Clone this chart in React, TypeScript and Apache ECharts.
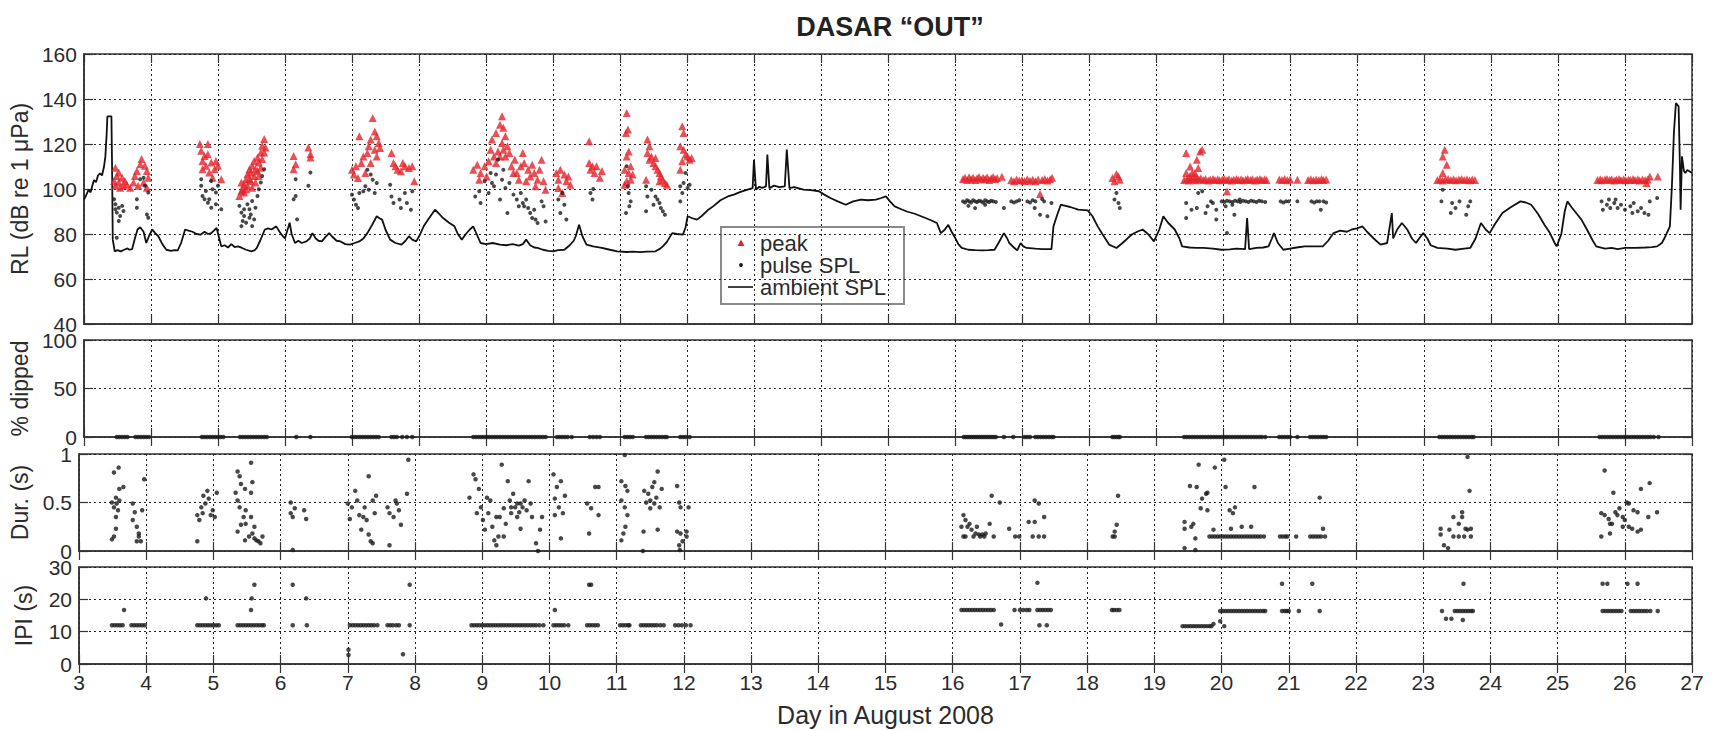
import React, { useEffect, useRef } from "react";
import * as echarts from "echarts";

// ---------- DATA (day in August 2008, value) ----------
const dayMin = 3;
const dayMax = 27;

const ambientSPL: number[][] = [
  [3.0,95.3],[3.03,97],[3.07,99.7],[3.1,98.5],[3.13,102],[3.15,104],[3.18,103],[3.21,106],[3.24,107],[3.27,106],[3.3,110],[3.32,114.5],[3.34,125],[3.35,132.3],[3.41,132.3],[3.42,110],[3.43,77.5],[3.46,72.3],[3.5,72.8],[3.55,72.3],[3.6,73],[3.65,73.6],[3.68,73],[3.72,73.3],[3.76,78],[3.8,82],[3.84,83],[3.89,81],[3.93,76],[3.97,79],
  [4.02,82],[4.06,80.5],[4.11,79],[4.17,75.5],[4.23,73],[4.3,72.5],[4.35,72.8],[4.4,72.7],[4.45,76],[4.51,82],[4.56,81.5],[4.62,81],[4.68,80],[4.74,79.7],[4.8,81],[4.85,80],[4.9,80.4],[4.94,81.5],[4.98,82.7],
  [5.02,78],[5.05,74.5],[5.1,75],[5.15,74],[5.2,75.5],[5.25,74.2],[5.3,74.5],[5.36,73.8],[5.42,73],[5.5,72.3],[5.55,72.8],[5.58,73.8],[5.63,77],[5.7,82],[5.75,82.5],[5.8,82],[5.87,83.4],[5.92,81],[5.95,79.7],
  [6.0,78],[6.04,82],[6.07,85],[6.1,80],[6.15,76],[6.2,77],[6.25,76],[6.32,76.7],[6.37,78],[6.41,80.4],[6.46,78],[6.5,77],[6.55,76.7],[6.6,78.5],[6.66,80.4],[6.7,79],[6.77,77],[6.83,76.7],[6.9,75.5],[6.97,75.3],
  [7.04,76],[7.11,76.7],[7.17,78],[7.23,80.4],[7.3,84],[7.37,87.9],[7.41,87],[7.45,86.4],[7.5,82],[7.57,77.5],[7.65,76],[7.74,75.3],[7.8,77],[7.85,79],[7.9,77.5],[7.96,76.7],
  [8.02,80],[8.07,83.4],[8.15,87],[8.24,90.8],[8.3,89],[8.36,87.1],[8.45,85],[8.53,83.4],[8.58,80],[8.64,77.5],[8.7,80],[8.76,82],[8.81,83.4],[8.86,80],[8.92,76],
  [9.0,75.5],[9.1,76],[9.21,75.3],[9.3,75],[9.4,75.5],[9.49,74.8],[9.55,75.5],[9.6,77.5],[9.66,75],[9.72,74],[9.77,73.8],[9.85,73],[9.93,72.5],
  [10.0,72.3],[10.08,72.8],[10.17,73],[10.25,75],[10.31,77],[10.34,79],[10.39,84.1],[10.44,79],[10.5,75.3],[10.6,74.5],[10.73,73.8],[10.85,73],[10.96,72.3],
  [11.1,72],[11.2,72.2],[11.3,71.9],[11.4,72.2],[11.53,72.3],[11.6,73.5],[11.64,74.5],[11.7,76.5],[11.78,80.4],[11.85,80],[11.94,79.7],[11.98,83],
  [12.01,87.9],[12.08,87],[12.15,86.4],[12.22,88],[12.32,90.8],[12.4,92.5],[12.5,95],[12.61,96.7],[12.7,97.5],[12.78,98.5],[12.88,99.5],[12.98,100.4],
  [13.0,113],[13.03,99.7],[13.08,101],[13.12,100.5],[13.18,101.2],[13.2,115.3],[13.23,100.4],[13.3,101.5],[13.38,100.8],[13.46,101.2],[13.49,117.5],[13.53,100.4],[13.6,100.8],[13.74,99.7],[13.85,99.5],[13.97,99],
  [14.05,97.5],[14.14,96],[14.25,94.5],[14.37,93],[14.48,94.5],[14.6,95.3],[14.7,95],[14.82,95.3],[14.9,96],[14.97,96.7],
  [15.03,94.5],[15.1,92.3],[15.2,91],[15.28,90],[15.4,89],[15.56,87.1],[15.65,86],[15.73,84.9],[15.79,80.4],[15.85,82],[15.9,84.1],[15.95,81],[15.99,79],
  [16.05,75.5],[16.1,73.8],[16.2,73],[16.3,72.8],[16.41,72.7],[16.5,72.8],[16.59,73],[16.65,76],[16.73,80.4],[16.78,78],[16.81,76],[16.88,74],[16.93,72.7],[16.98,76],
  [17.02,74.5],[17.07,73.8],[17.2,73.5],[17.3,73.3],[17.44,73.3],[17.47,83.4],[17.52,88],[17.58,93],[17.65,92.5],[17.72,92],[17.84,90.8],[17.98,90.5],
  [18.05,88],[18.13,83.4],[18.2,80],[18.3,75.3],[18.41,73.8],[18.5,76],[18.58,78.2],[18.65,80],[18.72,81],[18.8,82],[18.88,80],[18.97,76.7],
  [19.05,82],[19.11,87.9],[19.18,85],[19.28,82],[19.35,78],[19.39,74.5],[19.5,74],[19.6,73.8],[19.71,73.8],[19.85,73.5],[19.98,73],
  [20.1,73.2],[20.2,73.5],[20.33,73.3],[20.36,87.1],[20.39,73.3],[20.5,73.8],[20.6,74],[20.68,74.5],[20.73,78],[20.76,80.4],[20.82,76],[20.9,73],
  [21.0,73.5],[21.1,74],[21.22,74.5],[21.35,74.5],[21.49,74.5],[21.57,77],[21.65,80.4],[21.75,81.5],[21.85,81],[21.92,82],
  [22.0,82.5],[22.08,83.4],[22.15,81],[22.25,78],[22.35,75.3],[22.45,76],[22.52,89.3],[22.54,78],[22.6,82],[22.67,84.9],[22.75,82],[22.82,78],[22.88,76],[22.94,78.5],[22.99,80.4],
  [23.05,78],[23.1,75],[23.2,73.8],[23.35,73.5],[23.47,73],[23.6,73.5],[23.69,73.8],[23.77,78],[23.85,84.9],[23.92,82],[23.98,80.4],
  [24.05,84],[24.17,89.3],[24.3,92],[24.44,94.5],[24.52,94],[24.6,93],[24.7,89],[24.8,84],[24.88,80.4],[24.95,76],[24.98,74.5],
  [25.05,80],[25.1,90],[25.14,94.5],[25.2,92],[25.28,89],[25.35,86.4],[25.45,81],[25.52,77],[25.57,74.5],[25.7,73.5],[25.8,73.8],[25.89,73.3],
  [26.0,73.8],[26.16,73.8],[26.3,74],[26.4,74.2],[26.48,74.5],[26.55,76],[26.59,78.2],[26.67,83.4],[26.7,101.2],[26.73,125],[26.76,138.2],[26.8,136.7],[26.82,110],[26.83,90.8],[26.85,114.5],[26.88,108],[26.9,107.1],[26.93,108.5],[26.96,107.9],[27.0,107.1]
];

const peakLevel: number[][] = [
  [3.45,103.6],[3.47,109.5],[3.47,101.4],[3.49,105.8],[3.52,102.9],[3.52,107.3],[3.54,100.6],[3.57,105],[3.59,101.4],[3.61,103.6],[3.64,102],[3.69,100.6],
  [3.74,102.9],[3.76,105.8],[3.79,108],[3.81,101.4],[3.84,111],[3.86,113.3],[3.89,102.9],[3.91,110.3],[3.94,108],[3.94,100.6],[3.96,105],
  [4.73,120],[4.75,117],[4.77,112.5],[4.77,108.8],[4.8,114.7],[4.82,110.3],[4.85,120],[4.85,115.5],[4.87,107.3],[4.9,111.8],[4.92,105],[4.95,108.8],[4.97,112.5],[5.0,110.3],[5.05,104.3],
  [5.32,96.9],[5.37,99.9],[5.39,102.1],[5.42,104.3],[5.44,106.6],[5.47,108.8],[5.49,107.3],[5.51,110.3],[5.54,112.5],[5.56,108.8],[5.59,114],[5.61,111.8],[5.64,116.2],[5.66,119.2],[5.69,122.2],[5.71,118.5],
  [5.35,102.9],[5.39,98.4],[5.44,101.4],[5.49,103.6],[5.54,105.8],[5.56,102.9],[5.59,108],[5.64,109.5],[5.66,113.3],[5.69,116.2],[5.42,99.9],[5.47,104.3],[5.51,100.6],[5.61,105.8],[5.35,99.1],
  [6.13,114.7],[6.16,111],[6.13,108.8],[6.35,118.5],[6.38,115.5],[6.38,114],
  [7.0,108.6],[7.03,106.4],[7.06,110.1],[7.11,123.4],[7.14,111.6],[7.17,114.5],[7.23,116],[7.25,119],[7.28,122],[7.31,131.6],[7.34,125.6],[7.37,123.4],[7.4,120.4],[7.42,118.2],[7.28,111.6],[7.2,107.1],[7.09,104.9],[7.34,117.5],[7.37,114.5],
  [7.59,116],[7.62,111.6],[7.65,110.1],[7.68,108.6],[7.76,111.6],[7.79,110.1],[7.85,109.3],[7.9,110.1],[7.93,103.4],[7.73,107.9],
  [8.81,108.6],[8.87,110.8],[8.92,107.1],[8.98,110.1],[9.04,112.3],[9.07,117.5],[9.09,122],[9.15,124.9],[9.21,128.6],[9.24,132.3],[9.26,127.2],[9.29,123.4],[9.32,119],[9.35,116],
  [9.12,114.5],[9.18,116.7],[9.24,120.4],[9.29,114.5],[9.38,110.1],[9.43,113],[9.46,107.1],[9.52,110.1],[9.55,116],[9.57,111.6],[9.63,108.6],[9.66,105.6],[9.69,110.8],[9.72,107.1],
  [9.77,104.1],[9.8,108.6],[9.83,113],[9.86,103.4],[9.89,99.7],[9.74,101.2],[9.49,104.1],[9.6,103.4],[9.41,107.1],[9.01,105.6],[8.9,104.1],[9.21,114.5],[9.26,117.5],[9.15,111.6],
  [10.05,107.1],[10.08,104.1],[10.11,108.6],[10.14,98.2],[10.17,106.4],[10.2,103.4],[10.23,105.6],[10.26,101.9],[10.08,100.4],
  [10.54,121.2],[10.54,111.6],[10.56,108.6],[10.59,110.1],[10.62,107.1],[10.65,110.1],[10.7,105],[10.73,108],
  [11.1,133.8],[11.12,126.4],[11.09,124.9],[11.13,116.7],[11.1,114.5],[11.16,110.1],[11.07,108.6],[11.13,107.1],[11.16,104.1],[11.1,103.4],[11.07,101.9],[11.19,106.4],
  [11.41,122],[11.44,119],[11.41,116],[11.47,114.5],[11.5,111.6],[11.53,110.1],[11.56,108.6],[11.59,107.1],[11.61,105.6],[11.64,104.1],[11.67,102.7],[11.7,101.9],[11.44,113],[11.39,104.1],[11.53,113.8],[11.59,103.4],
  [11.93,127.9],[11.95,124.9],[11.9,119],[11.95,117.5],[11.98,115.3],[12.01,114.5],[12.04,113],[12.07,113.8],[11.9,108.6],[11.93,112.3],
  [16.12,104.5],[16.15,105],[16.18,104],[16.21,105.2],[16.24,104.3],[16.27,105],[16.3,104],[16.33,104.8],[16.36,105.3],[16.39,104.2],[16.42,105],[16.45,104.5],[16.48,105.2],[16.51,104],[16.54,104.8],[16.57,105.3],[16.6,104.4],[16.63,104.9],[16.7,105.5],
  [16.84,104],[16.88,103.5],[16.92,104.2],[16.96,103.8],[17.0,104],[17.04,103.6],[17.08,104.3],[17.12,103.7],[17.16,104.1],[17.2,103.5],[17.24,104.2],[17.27,97.8],[17.3,104],[17.34,104.5],[17.38,103.8],[17.42,104.3],[17.45,105],
  [18.35,104.9],[18.38,103.4],[18.41,106.7],[18.44,105.6],[18.46,104.1],
  [19.45,116],[19.51,110],[19.54,107.1],[19.6,105.6],[19.61,113],[19.66,116.7],[19.69,117.5],[19.63,109.3],[19.58,107.1],[19.45,107.1],[19.5,105.6],[20.06,99],
  [19.42,104],[19.46,104.5],[19.49,103.8],[19.53,104.2],[19.56,104.6],[19.6,103.9],[19.64,104.3],[19.67,104.8],[19.71,104],[19.74,104.4],[19.78,103.8],[19.81,104.2],[19.85,104.5],[19.88,104],[19.92,104.3],[19.95,103.9],[19.99,104.2],
  [20.02,104.5],[20.06,104],[20.09,104.3],[20.13,103.8],[20.16,104.2],[20.2,104.5],[20.23,104],[20.27,104.3],[20.3,103.9],[20.34,104.2],[20.37,104.4],[20.41,104],[20.44,104.3],[20.48,103.8],[20.51,104.2],[20.55,104.5],[20.58,104],[20.62,104.3],[20.65,104],
  [20.84,104.2],[20.88,104],[20.92,104.4],[20.96,103.9],[21.0,104.2],[21.11,104.1],[21.27,104],[21.31,104.3],[21.35,103.9],[21.39,104.2],[21.43,104],[21.47,104.4],[21.5,104],[21.54,104.2],
  [23.31,117.5],[23.28,114.5],[23.34,110.8],[23.28,107.1],
  [23.2,104],[23.24,104.3],[23.28,103.8],[23.32,104.2],[23.36,104.5],[23.4,104],[23.44,104.3],[23.48,103.9],[23.52,104.2],[23.56,104.5],[23.6,104],[23.64,104.3],[23.68,103.9],[23.72,104.2],[23.76,104],
  [25.59,104],[25.63,104.3],[25.66,103.9],[25.7,104.2],[25.73,104.5],[25.77,104],[25.8,104.3],[25.84,103.8],[25.87,104.2],[25.91,104.5],[25.94,104],[25.98,104.3],[26.01,103.9],[26.05,104.2],[26.08,104],[26.12,104.4],[26.15,104],[26.19,104.3],[26.22,103.8],[26.26,104.2],[26.3,104],[26.34,104.2],[26.32,102.7],[26.37,105.6],[26.49,105.6]
];

const pulseSPL: number[][] = [
  [3.45,95.4],[3.47,93.2],[3.47,91],[3.49,89.5],[3.49,78.3],[3.52,91.7],[3.52,85.8],[3.54,88],[3.57,92.5],[3.59,90.2],[3.79,95.4],[3.79,91.7],[3.84,104.3],[3.89,105],[3.91,101.4],[3.94,88.7],[3.96,98.4],[3.96,87.2],
  [4.75,101.4],[4.77,96.9],[4.8,95.4],[4.85,93.9],[4.87,95.4],[4.82,99.1],[4.9,103.6],[4.92,99.9],[4.97,98.4],[4.97,93.2],[5.0,101.4],[5.05,91],[4.75,104.3],[4.9,91.7],
  [5.32,92.5],[5.35,89.5],[5.39,88],[5.37,85.8],[5.44,93.2],[5.47,91],[5.42,85],[5.35,83.5],[5.49,88.7],[5.51,94.7],[5.56,91.7],[5.59,96.9],[5.61,99.9],[5.64,102.9],[5.66,105.8],[5.69,108.8],[5.54,86.5],[5.51,83.5],[5.39,91],[5.47,87.2],
  [6.16,104.3],[6.13,95.4],[6.16,96.9],[6.38,107.3],[6.35,101.4],[6.18,86.5],
  [7.0,97.5],[7.03,95.3],[7.06,93],[7.11,98.2],[7.17,99],[7.2,101.2],[7.25,99.7],[7.31,104.1],[7.34,98.2],[7.37,102.7],[7.28,106.4],[7.23,108.6],
  [7.57,101.9],[7.59,96.7],[7.62,93.8],[7.71,95.3],[7.73,91.6],[7.79,98.2],[7.82,93.8],[7.88,90.8],[7.9,99],[7.09,91.6],
  [8.84,96.7],[8.9,99],[8.92,93.8],[8.98,103.4],[9.04,98.2],[9.07,107.1],[9.12,101.2],[9.15,106.4],[9.18,113],[9.21,95.3],[9.24,104.1],[9.29,100.4],[9.32,89.3],[9.35,102.7],[9.41,97.5],[9.46,95.3],
  [9.52,98.2],[9.55,93.8],[9.57,92.3],[9.63,91.6],[9.66,89.3],[9.69,87.1],[9.74,86.4],[9.77,84.9],[9.83,94.5],[9.86,92.3],[9.89,85.6],[9.72,90.8],[9.6,95.3],[9.09,102.7],[9.26,108.6],[9.49,92.3],
  [10.08,95.3],[10.11,89.3],[10.17,93],[10.2,86.4],[10.14,98.2],
  [10.56,98.2],[10.59,95.3],[10.6,100],
  [11.1,110.1],[11.13,98.2],[11.16,94.5],[11.14,92.3],[11.12,101.2],[11.09,89.3],
  [11.39,101.2],[11.41,96.7],[11.39,90.1],[11.47,99.7],[11.53,96.7],[11.56,95.3],[11.59,93.8],[11.61,91.6],[11.64,90.1],[11.67,88.6],[11.5,93],
  [11.9,101.2],[11.93,98.2],[11.95,102.7],[12.01,100.4],[12.04,101.9],[11.98,107.1],[11.9,94.5],
  [16.12,94.5],[16.15,94],[16.18,95],[16.21,94.5],[16.24,94],[16.27,95],[16.3,94.5],[16.33,94.2],[16.36,94.8],[16.39,94.5],[16.42,94],[16.45,95],[16.48,94.5],[16.51,94.2],[16.54,94.8],[16.57,94.5],[16.61,94.2],
  [16.2,92.5],[16.3,91.5],[16.45,93],[16.73,91.6],
  [16.84,94.5],[16.88,94],[16.92,94.5],[16.96,95],[17.08,94.5],[17.12,94],[17.16,95],[17.2,94.5],[17.19,91.6],[17.27,88.6],[17.33,94.5],[17.38,87.9],[17.44,93.8],[17.3,95.5],
  [18.41,98.2],[18.38,95.3],[18.44,93.8],[18.46,91.6],
  [19.45,93.8],[19.53,90.8],[19.45,87.1],[19.61,91.6],[19.63,98.2],[19.69,99],[19.74,89.3],[19.77,92.3],[19.9,90.8],[19.9,86.4],[19.85,93.8],[20.04,92.3],[20.06,80.4],[20.14,93],[20.17,88.6],[20.25,95.3],[19.82,94.5],
  [19.98,94.5],[20.02,94.2],[20.06,94.8],[20.1,94.5],[20.14,94.2],[20.18,94.8],[20.22,94.5],[20.26,94.2],[20.3,94.8],[20.34,94.5],[20.38,94.2],[20.42,94.8],[20.46,94.5],[20.5,94.2],[20.54,94.8],[20.58,94.5],[20.63,94.2],
  [20.86,94.5],[20.9,94],[20.94,94.5],[20.98,94.5],[21.11,94.5],[21.32,94.5],[21.36,94],[21.4,94.5],[21.44,94.5],[21.46,90.8],[21.5,94.5],[21.54,94],
  [23.28,99.7],[23.26,94.5],[23.42,93.8],[23.47,91.6],[23.63,88.6],[23.53,94.5],[23.69,94.5],[23.66,92.3],[23.4,89.3],
  [25.65,94.5],[25.67,90.8],[25.76,95.3],[25.78,91.6],[25.84,93.8],[25.89,91.6],[25.94,93],[26.0,90.8],[26.08,92.3],[26.13,93.8],[26.19,90.1],[26.24,91.6],[26.35,88.6],[26.37,94.5],[26.48,96],[25.73,93],[25.86,95.3],[26.11,89.3],[26.29,89.3]
];

const percentDipped: number[][] = [
  [3.49,0],[3.53,0],[3.57,0],[3.61,0],[3.65,0],[3.77,0],[3.81,0],[3.85,0],[3.89,0],[3.93,0],[3.97,0],
  [4.76,0],[4.8,0],[4.84,0],[4.88,0],[4.92,0],[4.96,0],[5.0,0],[5.04,0],[5.08,0],
  [5.33,0],[5.37,0],[5.41,0],[5.45,0],[5.49,0],[5.53,0],[5.57,0],[5.61,0],[5.65,0],[5.69,0],[5.73,0],
  [6.17,0],[6.38,0],
  [7.0,0],[7.04,0],[7.08,0],[7.12,0],[7.16,0],[7.2,0],[7.24,0],[7.28,0],[7.32,0],[7.36,0],[7.4,0],[7.59,0],[7.63,0],[7.67,0],[7.75,0],[7.82,0],[7.9,0],
  [8.81,0],[8.85,0],[8.89,0],[8.93,0],[8.97,0],[9.01,0],[9.05,0],[9.09,0],[9.13,0],[9.17,0],[9.21,0],[9.25,0],[9.29,0],[9.33,0],[9.37,0],[9.41,0],[9.45,0],[9.49,0],[9.53,0],[9.57,0],[9.61,0],[9.65,0],[9.69,0],[9.73,0],[9.77,0],[9.81,0],[9.85,0],[9.89,0],
  [10.06,0],[10.1,0],[10.14,0],[10.18,0],[10.22,0],[10.28,0],[10.55,0],[10.6,0],[10.65,0],[10.7,0],
  [11.07,0],[11.11,0],[11.15,0],[11.19,0],[11.39,0],[11.43,0],[11.47,0],[11.51,0],[11.55,0],[11.59,0],[11.63,0],[11.67,0],[11.7,0],[11.9,0],[11.94,0],[11.98,0],[12.04,0],
  [16.13,0],[16.16,0],[16.19,0],[16.22,0],[16.25,0],[16.28,0],[16.31,0],[16.34,0],[16.37,0],[16.4,0],[16.43,0],[16.46,0],[16.49,0],[16.52,0],[16.55,0],[16.58,0],[16.61,0],
  [16.73,0],[16.87,0],[17.04,0],[17.08,0],[17.12,0],[17.2,0],[17.24,0],[17.28,0],[17.32,0],[17.36,0],[17.4,0],[17.44,0],[17.47,0],
  [18.35,0],[18.38,0],[18.41,0],[18.44,0],[18.46,0],
  [19.42,0],[19.46,0],[19.5,0],[19.54,0],[19.58,0],[19.62,0],[19.66,0],[19.7,0],[19.74,0],[19.78,0],[19.82,0],[19.86,0],[19.9,0],[19.94,0],[19.98,0],[20.02,0],[20.06,0],[20.1,0],[20.14,0],[20.18,0],[20.22,0],[20.26,0],[20.3,0],[20.34,0],[20.38,0],[20.42,0],[20.46,0],[20.5,0],[20.54,0],[20.58,0],[20.63,0],
  [20.84,0],[20.88,0],[20.92,0],[20.96,0],[21.0,0],[21.11,0],[21.3,0],[21.34,0],[21.38,0],[21.42,0],[21.46,0],[21.5,0],[21.54,0],
  [23.23,0],[23.27,0],[23.31,0],[23.35,0],[23.39,0],[23.43,0],[23.47,0],[23.51,0],[23.55,0],[23.59,0],[23.63,0],[23.67,0],[23.71,0],[23.74,0],
  [25.62,0],[25.66,0],[25.7,0],[25.74,0],[25.78,0],[25.82,0],[25.86,0],[25.9,0],[25.94,0],[25.98,0],[26.02,0],[26.06,0],[26.1,0],[26.14,0],[26.18,0],[26.22,0],[26.26,0],[26.3,0],[26.34,0],[26.38,0],[26.43,0],[26.5,0]
];

const pulseDuration: number[][] = [
  [3.52,0.81],[3.59,0.86],[3.55,0.55],[3.49,0.5],[3.52,0.45],[3.58,0.42],[3.55,0.35],[3.6,0.64],[3.66,0.66],[3.55,0.23],[3.52,0.15],[3.49,0.12],[3.6,0.52],[3.56,0.49],
  [3.8,0.49],[3.83,0.4],[3.8,0.32],[3.86,0.25],[3.89,0.18],[3.92,0.1],[3.86,0.1],[3.94,0.42],[3.97,0.74],[3.89,0.15],
  [4.76,0.1],[4.79,0.32],[4.76,0.37],[4.82,0.45],[4.85,0.57],[4.91,0.62],[4.93,0.54],[4.88,0.49],[4.96,0.37],[4.99,0.42],[5.05,0.6],[5.02,0.35],[4.84,0.39],
  [5.56,0.91],[5.36,0.82],[5.39,0.77],[5.33,0.6],[5.41,0.69],[5.47,0.64],[5.58,0.71],[5.56,0.6],[5.36,0.52],[5.39,0.45],[5.45,0.35],[5.41,0.27],[5.48,0.28],[5.56,0.35],[5.61,0.25],[5.58,0.18],[5.36,0.2],[5.47,0.11],[5.53,0.15],[5.61,0.13],[5.67,0.1],[5.7,0.08],[5.73,0.15],[5.64,0.11],[5.48,0.42],
  [6.18,0.01],[6.18,0.35],[6.15,0.5],[6.21,0.44],[6.35,0.42],[6.38,0.33],[6.15,0.39],
  [7.03,0.33],[7.0,0.49],[7.11,0.62],[7.14,0.52],[7.06,0.45],[7.17,0.37],[7.2,0.22],[7.25,0.45],[7.31,0.77],[7.28,0.32],[7.31,0.17],[7.34,0.1],[7.37,0.08],[7.4,0.39],[7.42,0.57],[7.37,0.52],[7.23,0.35],
  [7.59,0.45],[7.62,0.39],[7.62,0.06],[7.71,0.52],[7.73,0.49],[7.76,0.42],[7.79,0.27],[7.88,0.59],[7.9,0.94],[7.68,0.35],
  [8.81,0.55],[8.87,0.79],[8.9,0.74],[8.95,0.64],[8.98,0.45],[9.01,0.32],[9.04,0.22],[9.09,0.39],[9.12,0.52],[9.15,0.25],[9.18,0.11],[9.21,0.06],[9.24,0.15],[9.26,0.35],[9.29,0.89],[9.32,0.44],[9.35,0.28],[9.38,0.72],
  [9.41,0.52],[9.43,0.39],[9.46,0.59],[9.49,0.45],[9.52,0.49],[9.55,0.4],[9.57,0.23],[9.6,0.45],[9.63,0.52],[9.66,0.42],[9.69,0.72],[9.72,0.49],[9.74,0.35],[9.8,0.08],[9.83,0.0],[9.86,0.22],[9.89,0.35],
  [9.07,0.55],[9.21,0.35],[9.43,0.45],[9.52,0.35],[9.57,0.49],[8.92,0.39],[9.32,0.15],
  [10.06,0.79],[10.11,0.66],[10.17,0.72],[10.08,0.54],[10.14,0.45],[10.2,0.39],[10.17,0.13],[10.23,0.57],[10.08,0.37],
  [10.56,0.49],[10.59,0.18],[10.62,0.44],[10.68,0.66],[10.73,0.66],[10.73,0.37],
  [11.12,0.99],[11.07,0.72],[11.13,0.67],[11.16,0.62],[11.07,0.52],[11.12,0.45],[11.16,0.37],[11.13,0.25],[11.1,0.18],[11.07,0.11],
  [11.41,0.62],[11.47,0.59],[11.5,0.52],[11.53,0.66],[11.56,0.71],[11.61,0.82],[11.59,0.55],[11.64,0.45],[11.67,0.64],[11.56,0.49],[11.5,0.44],[11.4,0.2],[11.61,0.22],[11.39,0.0],[11.44,0.5],
  [11.9,0.67],[11.93,0.5],[11.95,0.45],[12.07,0.45],[11.9,0.2],[11.95,0.18],[12.04,0.2],[11.98,0.1],[11.93,0.06],[12.04,0.15],[11.94,0.01],
  [16.16,0.37],[16.19,0.32],[16.22,0.25],[16.13,0.25],[16.25,0.28],[16.28,0.22],[16.34,0.18],[16.39,0.17],[16.44,0.17],[16.49,0.18],[16.55,0.28],[16.58,0.57],[16.7,0.5],[16.31,0.15],[16.19,0.15],[16.47,0.15],[16.61,0.15],[16.16,0.15],[16.36,0.25],[16.41,0.15],
  [16.84,0.23],[16.93,0.15],[16.99,0.15],[17.19,0.15],[17.28,0.15],[17.36,0.15],[17.13,0.3],[17.22,0.3],[17.36,0.35],[17.22,0.52],[17.28,0.49],
  [18.38,0.15],[18.41,0.2],[18.44,0.27],[18.46,0.57],[18.41,0.15],
  [19.45,0.3],[19.45,0.23],[19.55,0.25],[19.58,0.28],[19.61,0.13],[19.45,0.03],[19.61,0.01],[19.53,0.67],[19.63,0.66],[19.66,0.89],[19.71,0.54],[19.77,0.59],[19.79,0.6],[19.69,0.44],[19.79,0.42],[19.9,0.86],[20.04,0.94],[20.06,0.66],[20.12,0.42],[20.17,0.39],[20.2,0.45],[20.49,0.66],[19.88,0.22],[20.14,0.23],[20.3,0.25],[20.44,0.25],
  [19.82,0.15],[19.86,0.15],[19.9,0.15],[19.94,0.15],[19.98,0.15],[20.02,0.15],[20.06,0.15],[20.1,0.15],[20.14,0.15],[20.18,0.15],[20.22,0.15],[20.26,0.15],[20.3,0.15],[20.34,0.15],[20.38,0.15],[20.42,0.15],[20.46,0.15],[20.5,0.15],[20.54,0.15],[20.58,0.15],[20.63,0.15],
  [20.87,0.15],[20.91,0.15],[20.95,0.15],[20.98,0.15],[21.11,0.15],[21.32,0.15],[21.36,0.15],[21.4,0.15],[21.44,0.15],[21.48,0.15],[21.54,0.15],[21.46,0.55],[21.51,0.23],
  [23.26,0.23],[23.26,0.17],[23.39,0.22],[23.31,0.06],[23.37,0.03],[23.45,0.35],[23.53,0.28],[23.58,0.4],[23.58,0.35],[23.63,0.23],[23.69,0.62],[23.66,0.97],[23.45,0.15],[23.53,0.15],[23.61,0.15],[23.71,0.23],[23.71,0.15],[23.66,0.22],
  [25.7,0.83],[25.83,0.6],[25.65,0.39],[25.7,0.37],[25.76,0.33],[25.81,0.28],[25.86,0.4],[25.89,0.37],[25.92,0.44],[25.97,0.35],[26.0,0.32],[26.03,0.5],[26.06,0.25],[26.11,0.23],[26.13,0.42],[26.19,0.4],[26.19,0.2],[26.24,0.22],[26.24,0.64],[26.35,0.35],[26.37,0.7],[26.48,0.4],[25.65,0.15],[25.78,0.18],[25.97,0.25],[26.06,0.49],[25.78,0.28]
];

const interPulseInterval: number[][] = [
  [3.49,12],[3.53,12],[3.57,12],[3.61,12],[3.65,12],[3.78,12],[3.82,12],[3.86,12],[3.9,12],[3.94,12],[3.98,12],[3.67,16.7],
  [4.76,12],[4.8,12],[4.84,12],[4.88,12],[4.92,12],[4.96,12],[5.0,12],[5.04,12],[5.08,12],[4.89,20.3],
  [5.36,12],[5.4,12],[5.44,12],[5.48,12],[5.52,12],[5.56,12],[5.6,12],[5.64,12],[5.68,12],[5.72,12],[5.75,12],[5.56,16.7],[5.57,20.3],[5.61,24.5],
  [6.18,24.5],[6.18,12],[6.38,20.3],[6.39,12],
  [7.03,12],[7.07,12],[7.11,12],[7.15,12],[7.19,12],[7.23,12],[7.27,12],[7.31,12],[7.35,12],[7.39,12],[7.44,12],[7.59,12],[7.63,12],[7.67,12],[7.72,12],[7.76,12],[7.92,12],[7.01,4.4],[7.01,2.8],[7.82,3.0],[7.92,24.5],
  [8.84,12],[8.88,12],[8.92,12],[8.96,12],[9.0,12],[9.04,12],[9.08,12],[9.12,12],[9.16,12],[9.2,12],[9.24,12],[9.28,12],[9.32,12],[9.36,12],[9.4,12],[9.44,12],[9.48,12],[9.52,12],[9.56,12],[9.6,12],[9.64,12],[9.68,12],[9.72,12],[9.76,12],[9.8,12],[9.85,12],[9.91,12],
  [10.06,12],[10.1,12],[10.14,12],[10.18,12],[10.22,12],[10.28,12],[10.08,16.7],
  [10.59,24.5],[10.62,24.5],[10.56,12],[10.6,12],[10.64,12],[10.68,12],[10.72,12],
  [11.05,12],[11.09,12],[11.13,12],[11.17,12],[11.19,12],
  [11.36,12],[11.4,12],[11.44,12],[11.48,12],[11.52,12],[11.56,12],[11.6,12],[11.65,12],[11.7,12],
  [11.87,12],[11.92,12],[11.97,12],[12.03,12],[12.1,12],
  [16.13,16.7],[16.17,16.7],[16.21,16.7],[16.25,16.7],[16.29,16.7],[16.33,16.7],[16.37,16.7],[16.41,16.7],[16.45,16.7],[16.49,16.7],[16.53,16.7],[16.57,16.7],[16.61,16.7],[16.72,12.2],
  [16.92,16.7],[17.0,16.7],[17.05,16.7],[17.1,16.7],[17.14,16.7],[17.26,16.7],[17.3,16.7],[17.34,16.7],[17.38,16.7],[17.42,16.7],[17.46,16.7],[17.26,25.1],[17.29,12],[17.4,12],
  [18.37,16.7],[18.4,16.7],[18.44,16.7],[18.48,16.7],
  [19.42,11.7],[19.46,11.7],[19.5,11.7],[19.54,11.7],[19.58,11.7],[19.62,11.7],[19.66,11.7],[19.7,11.7],[19.74,11.7],[19.78,11.7],[19.82,11.7],[19.85,11.7],[19.88,12.4],[19.98,13.2],[20.04,11.7],
  [19.98,16.4],[20.02,16.4],[20.06,16.4],[20.1,16.4],[20.14,16.4],[20.18,16.4],[20.22,16.4],[20.26,16.4],[20.3,16.4],[20.34,16.4],[20.38,16.4],[20.42,16.4],[20.46,16.4],[20.5,16.4],[20.54,16.4],[20.58,16.4],[20.62,16.4],[20.65,16.4],
  [20.9,24.8],[21.35,24.8],[20.9,16.4],[20.94,16.4],[20.97,16.4],[21.0,16.4],[21.15,16.4],[21.46,16.4],
  [23.28,16.4],[23.34,14],[23.42,14],[23.59,13.6],[23.6,24.8],[23.47,16.4],[23.51,16.4],[23.55,16.4],[23.59,16.4],[23.63,16.4],[23.67,16.4],[23.71,16.4],[23.74,16.4],
  [25.67,24.8],[25.74,24.8],[26.04,24.8],[26.19,24.8],
  [25.67,16.4],[25.71,16.4],[25.75,16.4],[25.79,16.4],[25.83,16.4],[25.87,16.4],[25.91,16.4],[25.95,16.4],[26.09,16.4],[26.13,16.4],[26.17,16.4],[26.21,16.4],[26.25,16.4],[26.29,16.4],[26.33,16.4],[26.38,16.4],[26.49,16.4]
];

const panelNames = ["RL (dB re 1 \u03bcPa)", "% dipped", "Dur. (s)", "IPI (s)"];
const panelMin = [40, 0, 0, 0];
const panelMax = [160, 100, 1, 30];
const panelInterval = [20, 50, 0.5, 10];
const legendLabels = ["peak", "pulse SPL", "ambient SPL"];
const titleText = "DASAR \u201cOUT\u201d";
const xAxisTitle = "Day in August 2008";

// ---------- LAYOUT ----------
const FONT = "'Liberation Sans', Arial, Helvetica, sans-serif";
const TEXT = "#2b2b2b";
const AX = "#333";
const gridTops = [54, 340, 454, 567];
const gridHeights = [270, 97, 97, 97];

function buildOption() {
  const grid = gridTops.map((t, i) => ({
    left: 79, right: 27, top: t, height: gridHeights[i],
    show: true, borderColor: AX, borderWidth: 1.5, backgroundColor: "transparent",
  }));
  const dotted = { show: true, lineStyle: { color: "#222", type: [2, 3], width: 1 } };
  const xAxis: any[] = [];
  const yAxis: any[] = [];
  for (let i = 0; i < 4; i++) {
    xAxis.push({
      type: "value", gridIndex: i, min: dayMin, max: dayMax, interval: 1, position: "bottom",
      axisLine: { show: true, lineStyle: { color: AX, width: 1.5 } },
      axisTick: { show: true, inside: true, length: 9, lineStyle: { color: AX, width: 1.2 } },
      axisLabel: { show: i === 3, fontSize: 21, color: TEXT, fontFamily: FONT, margin: 8 },
      splitLine: dotted,
      name: i === 3 ? xAxisTitle : "", nameLocation: "middle", nameGap: 38,
      nameTextStyle: { fontSize: 25, color: TEXT, fontFamily: FONT },
    });
  }
  for (let i = 0; i < 4; i++) {
    xAxis.push({
      type: "value", gridIndex: i, min: dayMin, max: dayMax, interval: 1, position: "top",
      axisLine: { show: false },
      axisTick: { show: true, inside: true, length: 9, lineStyle: { color: AX, width: 1.2 } },
      axisLabel: { show: false }, splitLine: { show: false },
    });
  }
  for (let i = 0; i < 4; i++) {
    yAxis.push({
      type: "value", gridIndex: i, min: panelMin[i], max: panelMax[i], interval: panelInterval[i], position: "left",
      axisLine: { show: true, lineStyle: { color: AX, width: 1.5 } },
      axisTick: { show: true, inside: true, length: 9, lineStyle: { color: AX, width: 1.2 } },
      axisLabel: { fontSize: 21, color: TEXT, fontFamily: FONT, margin: 7 },
      splitLine: dotted,
      name: panelNames[i], nameLocation: "middle", nameGap: 44, nameRotate: 90,
      nameTextStyle: { fontSize: 23, color: TEXT, fontFamily: FONT },
    });
  }
  for (let i = 0; i < 4; i++) {
    yAxis.push({
      type: "value", gridIndex: i, min: panelMin[i], max: panelMax[i], interval: panelInterval[i], position: "right",
      axisLine: { show: false },
      axisTick: { show: true, inside: true, length: 9, lineStyle: { color: AX, width: 1.2 } },
      axisLabel: { show: false }, splitLine: { show: false },
    });
  }

  const series: any[] = [
    { name: legendLabels[2], type: "line", xAxisIndex: 0, yAxisIndex: 0, data: ambientSPL, showSymbol: false, symbol: "none",
      lineStyle: { color: "#111", width: 1.8 }, z: 2 },
    { name: legendLabels[0], type: "scatter", xAxisIndex: 0, yAxisIndex: 0, data: peakLevel, symbol: "triangle", symbolSize: 8,
      itemStyle: { color: "#e3232a" }, z: 3, clip: false },
    { name: legendLabels[1], type: "scatter", xAxisIndex: 0, yAxisIndex: 0, data: pulseSPL, symbol: "circle", symbolSize: 4,
      itemStyle: { color: "#1a1a1a" }, z: 4, clip: false },
    { type: "scatter", xAxisIndex: 1, yAxisIndex: 1, data: percentDipped, symbolSize: 4.5, itemStyle: { color: "#1a1a1a" }, clip: false },
    { type: "scatter", xAxisIndex: 2, yAxisIndex: 2, data: pulseDuration, symbolSize: 4.5, itemStyle: { color: "#1a1a1a" }, clip: false },
    { type: "scatter", xAxisIndex: 3, yAxisIndex: 3, data: interPulseInterval, symbolSize: 4.5, itemStyle: { color: "#1a1a1a" }, clip: false },
  ];

  const lx = 721, ly = 227;
  const legendText = (i: number, y: number) => ({
    type: "text", x: lx + 39, y,
    style: { text: legendLabels[i], fontSize: 22, lineHeight: 21, fontFamily: FONT, fill: TEXT, verticalAlign: "middle" },
  });
  const graphic = [{
    type: "group", z: 100,
    children: [
      { type: "rect", shape: { x: lx, y: ly, width: 183, height: 77 }, style: { fill: "#fff", stroke: "#8a8a8a", lineWidth: 2 } },
      { type: "polygon", shape: { points: [[lx + 20, ly + 12.5], [lx + 16.5, ly + 19], [lx + 23.5, ly + 19]] }, style: { fill: "#e3232a" } },
      { type: "circle", shape: { cx: lx + 20, cy: ly + 38, r: 1.9 }, style: { fill: "#1a1a1a" } },
      { type: "line", shape: { x1: lx + 7, y1: ly + 60, x2: lx + 32, y2: ly + 60 }, style: { stroke: "#111", lineWidth: 1.6 } },
      legendText(0, ly + 16),
      legendText(1, ly + 38),
      legendText(2, ly + 60),
    ],
  }];

  return {
    animation: false,
    backgroundColor: "#fff",
    textStyle: { fontFamily: FONT },
    title: { text: titleText, left: 885, top: 8, textAlign: "center",
      textStyle: { fontSize: 27, fontWeight: "bold", color: "#222", fontFamily: FONT } },
    grid, xAxis, yAxis, series, graphic,
  };
}

export default function App() {
  const ref = useRef<HTMLDivElement>(null);
  useEffect(() => {
    if (!ref.current) return;
    const chart = echarts.init(ref.current, null, { renderer: "svg" });
    chart.setOption(buildOption() as any);
    return () => chart.dispose();
  }, []);
  return (
    <div
      ref={ref}
      style={{ position: "fixed", left: 0, top: 0, width: 1719, height: 730, background: "#fff" }}
    />
  );
}
